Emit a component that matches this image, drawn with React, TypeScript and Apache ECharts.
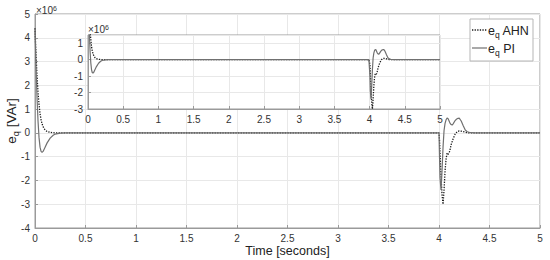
import React, { useEffect, useRef } from "react";
import * as echarts from "echarts";

// Time samples [s]
const time = [
  0, 0.01, 0.02, 0.03, 0.04, 0.05, 0.06, 0.07, 0.08,
  0.1, 0.12, 0.15, 0.18, 0.2, 0.25, 0.3,
  1, 2, 3,
  3.99, 4.0,
  4.005, 4.01, 4.02, 4.03, 4.04, 4.05, 4.06, 4.07, 4.08, 4.09, 4.1,
  4.11, 4.12, 4.13, 4.14, 4.16, 4.18, 4.2, 4.22, 4.24, 4.26, 4.28, 4.3,
  4.35, 4.4, 5,
];

// e_q AHN (x10^6 VAr)
const ahnValues = [
  4.4, 3.3, 2.4, 1.7, 1.2, 0.8, 0.55, 0.38, 0.26,
  0.12, 0.06, 0.02, 0.01, 0, 0, 0,
  0, 0, 0,
  0, 0,
  -0.3, -0.8, -1.8, -2.6, -3.0, -2.4, -1.6, -1.1, -0.85, -0.9, -0.85,
  -0.7, -0.5, -0.37, -0.25, -0.05, 0.05, 0.08, 0.07, 0.05, 0.03, 0.01, 0,
  0, 0, 0,
];

// e_q PI (x10^6 VAr)
const piValues = [
  4.4, 2.8, 1.5, 0.5, -0.2, -0.6, -0.78, -0.82, -0.78,
  -0.6, -0.42, -0.22, -0.1, -0.05, -0.01, 0,
  0, 0, 0,
  0, 0,
  -1.0, -1.9, -2.4, -1.6, -0.6, 0.1, 0.4, 0.55, 0.62, 0.6, 0.5,
  0.4, 0.35, 0.33, 0.38, 0.52, 0.6, 0.62, 0.5, 0.3, 0.12, 0.05, 0.02,
  0, 0, 0,
];

const seriesNames = ["AHN", "PI"];

const FONT = "Liberation Sans, Arial, sans-serif";
const AXIS_COLOR = "#9a9a9a";
const GRID_COLOR = "#e8e8e8";
const LABEL_COLOR = "#333";

const lineStyles = [
  { color: "#1a1a1a", width: 1.3, type: "dotted" as const },
  { color: "#707070", width: 1.2, type: "solid" as const },
];

export default function App() {
  const ref = useRef<HTMLDivElement>(null);

  useEffect(() => {
    if (!ref.current) return;
    const chart = echarts.init(ref.current, undefined, { renderer: "svg" });
    const ahnData = time.map((t, i) => [t, ahnValues[i]]);
    const piData = time.map((t, i) => [t, piValues[i]]);

    const axisCommon = (extra: any) => ({
      axisLine: { show: true, onZero: false, lineStyle: { color: AXIS_COLOR, width: 1 } },
      axisTick: { show: true, inside: true, length: 3, lineStyle: { color: AXIS_COLOR } },
      splitLine: { show: true, lineStyle: { color: GRID_COLOR, width: 1 } },
      axisLabel: { color: LABEL_COLOR, fontSize: 10, fontFamily: FONT, margin: 5 },
      ...extra,
    });

    const makeSeries = (axisIdx: number, z: number) =>
      [ahnData, piData].map((d, k) => ({
        type: "line",
        name: seriesNames[k],
        xAxisIndex: axisIdx,
        yAxisIndex: axisIdx,
        data: d,
        showSymbol: false,
        symbol: "none",
        clip: true,
        z,
        color: lineStyles[k].color,
        lineStyle: lineStyles[k],
      }));

    const richSub = (size: number, lh: number) => ({
      a: { fontSize: size, lineHeight: lh, fill: "#222", color: "#222", fontFamily: FONT },
      b: { fontSize: size * 0.68, lineHeight: size * 0.68, verticalAlign: "bottom", fill: "#222", color: "#222", fontFamily: FONT },
    });

    const legendX = 470, legendY = 19, legendW = 63, legendH = 42;
    const legendGraphics: any[] = [
      {
        type: "rect", z: 20,
        shape: { x: legendX, y: legendY, width: legendW, height: legendH },
        style: { fill: "#fff", stroke: "#b5b5b5", lineWidth: 1 },
      },
    ];
    seriesNames.forEach((name, k) => {
      const cy = legendY + 11 + k * 18;
      legendGraphics.push({
        type: "line", z: 21,
        shape: { x1: legendX + 2, y1: cy, x2: legendX + 17, y2: cy },
        style: {
          stroke: lineStyles[k].color,
          lineWidth: lineStyles[k].width,
          lineDash: lineStyles[k].type === "dotted" ? [1.3, 1.3] : null,
        },
      });
      legendGraphics.push({
        type: "text", z: 21,
        x: legendX + 18, y: cy - 8,
        style: {
          text: `{a|e}{b|q}{a| ${name}}`,
          rich: richSub(12.5, 17),
          fill: "#222",
        },
      });
    });

    chart.setOption({
      animation: false,
      backgroundColor: "#fff",
      textStyle: { fontFamily: FONT },
      grid: [
        {
          left: 35, top: 14, width: 505, height: 214, outerBoundsMode: "none", containLabel: false,
          show: true, borderColor: AXIS_COLOR, borderWidth: 1, backgroundColor: "#fff",
        },
        {
          left: 88, top: 35, width: 352, height: 74, outerBoundsMode: "none", containLabel: false,
          show: true, borderColor: AXIS_COLOR, borderWidth: 1, backgroundColor: "#fff", z: 3,
        },
      ],
      xAxis: [
        axisCommon({
          type: "value", gridIndex: 0, min: 0, max: 5, interval: 0.5,
          name: "Time [seconds]", nameLocation: "middle", nameGap: 16, nameMoveOverlap: false,
          nameTextStyle: { fontSize: 12.5, color: "#222", fontFamily: FONT },
        }),
        axisCommon({ type: "value", gridIndex: 1, min: 0, max: 5, interval: 0.5, z: 3 }),
      ],
      yAxis: [
        axisCommon({ type: "value", gridIndex: 0, min: -4, max: 5, interval: 1 }),
        axisCommon({
          type: "value", gridIndex: 1, min: -3, max: 1.5, interval: 1, z: 3,
          axisLabel: { color: LABEL_COLOR, fontSize: 10, fontFamily: FONT, margin: 5, showMaxLabel: false },
        }),
      ],
      graphic: [
        {
          type: "text", x: 11, y: 121, rotation: Math.PI / 2, z: 10,
          style: {
            text: "{a|e}{b|q}{a| [VAr]}",
            rich: richSub(13.5, 18),
            align: "center", verticalAlign: "middle", fill: "#222",
          },
        },
        {
          type: "text", x: 36, y: 5, z: 10,
          style: {
            text: "×10{s|6}", fill: "#333", font: `10px ${FONT}`,
            rich: { s: { fontSize: 7, lineHeight: 7, verticalAlign: "top", fill: "#333", fontFamily: FONT } },
          },
        },
        {
          type: "text", x: 88, y: 24, z: 10,
          style: {
            text: "×10{s|6}", fill: "#333", font: `10px ${FONT}`,
            rich: { s: { fontSize: 7, lineHeight: 7, verticalAlign: "top", fill: "#333", fontFamily: FONT } },
          },
        },
        ...legendGraphics,
      ],
      series: [...makeSeries(0, 2), ...makeSeries(1, 5)],
    });
    return () => chart.dispose();
  }, []);

  return (
    <div
      ref={ref}
      style={{ position: "fixed", left: 0, top: 0, width: 550, height: 260 }}
    />
  );
}
